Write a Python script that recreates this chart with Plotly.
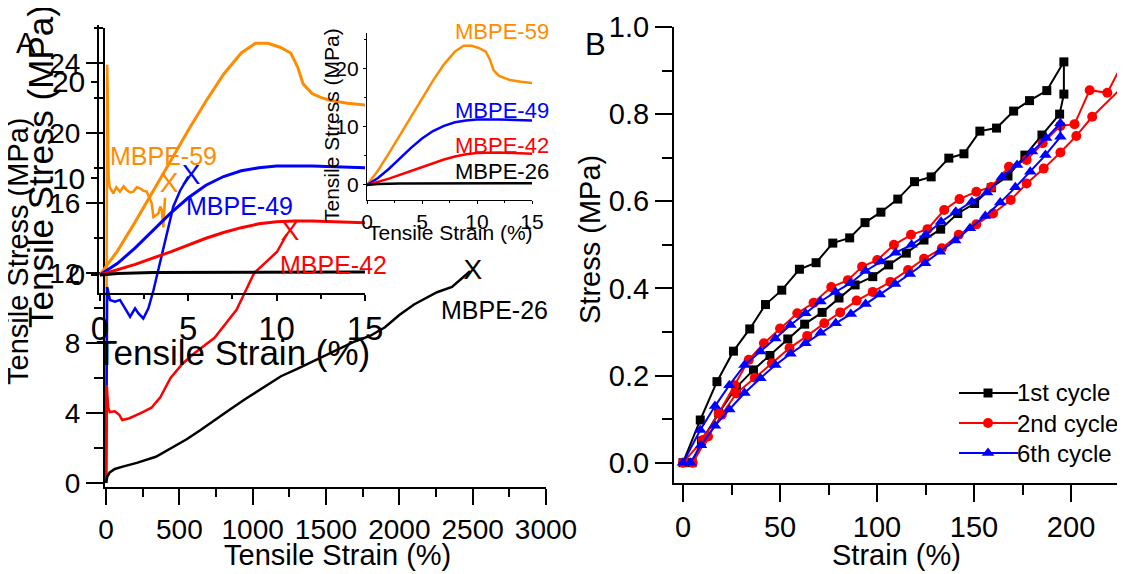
import plotly.graph_objects as go

W, H = 1125, 574          # browser window
OFF = 8                   # default page margin around the plot div
FW, FH = W - OFF, H - OFF  # figure size that exactly fills the window
FONT = "Liberation Sans, Arial, sans-serif"
ORANGE = "rgb(255,140,0)"

# ---------------- Panel A: main curves (strain %, stress MPa) ----------------
a59_strain = [0, 3, 6, 8, 11, 14, 18, 25, 50, 70, 95, 120, 141, 165, 186, 210, 232, 255, 277, 295, 311, 323, 340, 357, 370, 380, 391, 402]
a59_stress = [0, 9, 19, 23.9, 22.5, 19.5, 17.4, 16.9, 16.55, 16.9, 16.65, 16.95, 16.74, 16.6, 16.65, 16.9, 16.84, 16.7, 16.65, 16.3, 16.0, 15.2, 15.3, 15.4, 15.8, 15.6, 14.6, 16.3]

a49_strain = [0, 4, 8, 27, 61, 95, 130, 164, 198, 220, 254, 289, 323, 357, 391, 425, 459, 505, 539, 561]
a49_stress = [0, 6, 11.2, 10.46, 10.36, 10.46, 10.0, 9.5, 9.98, 9.7, 9.4, 9.98, 11.0, 12.2, 13.5, 14.6, 15.8, 16.7, 17.2, 17.5]

a42_strain = [0, 5, 15, 25, 60, 90, 110, 160, 240, 310, 370, 440, 520, 600, 740, 890, 1010, 1165, 1232]
a42_stress = [0, 5.6, 4.3, 4.05, 4.1, 3.9, 3.6, 3.7, 4.0, 4.3, 4.9, 6.0, 6.8, 7.4, 8.3, 9.9, 12.0, 13.2, 14.2]

a26_strain = [0, 8, 25, 60, 120, 210, 340, 450, 550, 640, 740, 845, 950, 1043, 1193, 1300, 1398, 1500, 1602, 1700, 1800, 1902, 2000, 2100, 2257, 2359, 2482]
a26_stress = [0, 0.35, 0.6, 0.8, 0.95, 1.15, 1.5, 2.0, 2.5, 3.0, 3.6, 4.2, 4.8, 5.3, 6.1, 6.5, 6.9, 7.3, 7.7, 8.1, 8.4, 8.9, 9.6, 10.2, 10.9, 11.2, 12.1]

# break points ("X")
break_strain = [430, 580, 1255, 2502]
break_stress = [17.0, 17.5, 14.3, 12.06]

# ---------------- Insets: low-strain region (0-15 %) ----------------
i59_strain = [0, 1, 2, 3, 4, 5, 6, 7, 8, 8.8, 9.5, 10.2, 10.8, 11.2, 11.5, 12, 12.5, 13, 14, 15]
i59_stress = [0, 2.5, 5.5, 8.6, 11.8, 15, 18, 20.8, 23, 24, 24, 23.6, 23, 21.5, 19.8, 18.8, 18.4, 18.1, 17.8, 17.6]
i49_strain = [0, 1, 2, 3, 4, 5, 6, 7, 8, 9, 10, 12, 15]
i49_stress = [0, 1.2, 2.8, 4.6, 6.4, 8, 9.3, 10.2, 10.8, 11.1, 11.3, 11.3, 11.1]
i42_strain = [0, 2, 4, 5, 6, 7, 8, 9, 10, 11, 12, 15]
i42_stress = [0, 1.1, 2.4, 3.1, 3.8, 4.4, 4.9, 5.3, 5.5, 5.6, 5.6, 5.4]
i26_strain = [0, 1, 3, 15]
i26_stress = [0, 0.15, 0.25, 0.3]

# ---------------- Panel B: cyclic loading ----------------
c1_load_x = [0, 8.9, 17.5, 26.0, 34.4, 42.5, 50.9, 60.0, 68.6, 77.2, 85.9, 93.8, 102.0, 110.7, 119.3, 127.9, 137.0, 144.8, 153.0, 161.6, 170.4, 178.6, 187.5, 196.3]
c1_load_y = [0, 0.098, 0.186, 0.256, 0.307, 0.363, 0.396, 0.444, 0.459, 0.504, 0.516, 0.551, 0.575, 0.605, 0.645, 0.656, 0.699, 0.709, 0.761, 0.768, 0.807, 0.831, 0.854, 0.920]
c1_unload_x = [196.3, 194.1, 185.0, 176.2, 167.5, 158.9, 150.3, 141.6, 132.8, 124.2, 115.1, 106.0, 97.8, 88.7, 80.4, 71.7, 62.7, 54.0, 44.8, 36.3, 27.5, 18.4, 9.5, 4.7]
c1_unload_y = [0.846, 0.800, 0.752, 0.706, 0.658, 0.631, 0.595, 0.572, 0.536, 0.511, 0.481, 0.454, 0.427, 0.408, 0.378, 0.345, 0.318, 0.284, 0.246, 0.213, 0.173, 0.114, 0.05, 0.0]

c2_load_x = [0, 10.2, 18.4, 26.6, 33.9, 41.7, 50.0, 58.9, 67.3, 76.4, 85.0, 92.3, 100.1, 108.7, 117.5, 126.0, 134.6, 142.5, 151.2, 158.9, 168.0, 177.1, 185.4, 194.5, 201.8, 209.6, 218.7, 226.4]
c2_load_y = [0, 0.052, 0.113, 0.178, 0.236, 0.274, 0.308, 0.343, 0.367, 0.403, 0.419, 0.450, 0.465, 0.500, 0.523, 0.536, 0.580, 0.605, 0.622, 0.633, 0.679, 0.695, 0.733, 0.773, 0.777, 0.855, 0.849, 0.915]
c2_unload_x = [226.4, 210.9, 202.7, 194.5, 185.9, 177.1, 168.9, 159.8, 151.2, 142.1, 133.4, 124.2, 116.0, 106.9, 97.8, 89.5, 81.0, 72.8, 64.0, 54.9, 45.8, 37.0, 27.5, 20.0, 12.9, 5.0]
c2_unload_y = [0.862, 0.794, 0.750, 0.712, 0.675, 0.641, 0.603, 0.572, 0.547, 0.523, 0.492, 0.468, 0.442, 0.415, 0.392, 0.372, 0.345, 0.320, 0.291, 0.263, 0.228, 0.195, 0.159, 0.11, 0.06, 0.0]

c6_load_x = [0, 8.9, 16.5, 23.9, 31.7, 39.9, 47.6, 55.4, 63.1, 70.9, 78.6, 86.3, 94.1, 102.0, 109.6, 117.8, 125.1, 133.0, 140.6, 148.9, 156.7, 164.4, 172.2, 179.9, 187.2, 194.5]
c6_load_y = [0, 0.075, 0.130, 0.178, 0.224, 0.255, 0.285, 0.316, 0.343, 0.370, 0.392, 0.412, 0.440, 0.462, 0.482, 0.500, 0.523, 0.553, 0.576, 0.599, 0.620, 0.656, 0.683, 0.714, 0.745, 0.779]
c6_unload_x = [194.5, 186.8, 179.0, 171.3, 163.5, 155.8, 147.9, 140.3, 132.4, 124.8, 116.9, 109.3, 101.4, 94.1, 86.5, 78.7, 70.9, 63.1, 55.4, 47.6, 39.9, 31.7, 23.9, 16.5, 9.3, 3.8]
c6_unload_y = [0.748, 0.706, 0.668, 0.632, 0.597, 0.566, 0.538, 0.510, 0.484, 0.458, 0.433, 0.410, 0.386, 0.364, 0.341, 0.320, 0.298, 0.274, 0.250, 0.224, 0.194, 0.160, 0.122, 0.085, 0.040, 0.0]

sample_names = ["MBPE-59", "MBPE-49", "MBPE-42", "MBPE-26"]
sample_colors = [ORANGE, "blue", "red", "black"]
cycle_names = ["1st cycle", "2nd cycle", "6th cycle"]


def px(x):
    """window pixel x -> paper fraction"""
    return (x - OFF) / FW


def py(y):
    """window pixel y -> paper fraction"""
    return 1 - (y - OFF) / FH


fig = go.Figure()

# main panel A curves
main_sets = [(a59_strain, a59_stress), (a49_strain, a49_stress), (a42_strain, a42_stress), (a26_strain, a26_stress)]
for (xs, ys), c in zip(main_sets, sample_colors):
    fig.add_trace(go.Scatter(x=xs, y=ys, mode="lines", line=dict(color=c, width=2.5),
                             xaxis="x", yaxis="y", showlegend=False))
fig.add_trace(go.Scatter(x=break_strain, y=break_stress, mode="text", text=["X"] * 4,
                         textfont=dict(family=FONT, size=28, color=sample_colors),
                         xaxis="x", yaxis="y", showlegend=False, cliponaxis=False))

# insets
ins_sets = [(i59_strain, i59_stress), (i49_strain, i49_stress), (i42_strain, i42_stress), (i26_strain, i26_stress)]
for (xs, ys), c in zip(ins_sets, sample_colors):
    fig.add_trace(go.Scatter(x=xs, y=ys, mode="lines", line=dict(color=c, width=3),
                             xaxis="x2", yaxis="y2", showlegend=False))
for (xs, ys), c in zip(ins_sets, sample_colors):
    fig.add_trace(go.Scatter(x=xs, y=ys, mode="lines", line=dict(color=c, width=2.5),
                             xaxis="x3", yaxis="y3", showlegend=False))

# panel B
cycles = [
    (c1_load_x + c1_unload_x, c1_load_y + c1_unload_y, "black", "square", 9),
    (c2_load_x + c2_unload_x, c2_load_y + c2_unload_y, "red", "circle", 10),
    (c6_load_x + c6_unload_x, c6_load_y + c6_unload_y, "blue", "triangle-up", 11),
]
for (xs, ys, c, sym, sz), name in zip(cycles, cycle_names):
    fig.add_trace(go.Scatter(x=xs, y=ys, mode="lines+markers", name=name,
                             line=dict(color=c, width=2),
                             marker=dict(color=c, symbol=sym, size=sz),
                             xaxis="x4", yaxis="y4", showlegend=False))

# legend of panel B drawn on a pixel-scaled helper axis (x5/y5)
leg_rows = [393, 423, 453]
for (xs, ys, c, sym, sz), name, ry in zip(cycles, cycle_names, leg_rows):
    fig.add_trace(go.Scatter(x=[959, 1018], y=[ry, ry], mode="lines", line=dict(color=c, width=2),
                             xaxis="x5", yaxis="y5", showlegend=False, hoverinfo="skip"))
    fig.add_trace(go.Scatter(x=[988], y=[ry], mode="markers", marker=dict(color=c, symbol=sym, size=sz),
                             xaxis="x5", yaxis="y5", showlegend=False, hoverinfo="skip"))

axis_common = dict(showline=True, linecolor="black", showgrid=False, zeroline=False,
                   ticks="outside", tickcolor="black", mirror=False, automargin=False)

fig.update_layout(
    width=FW, height=FH,
    margin=dict(l=0, r=0, t=0, b=0, autoexpand=False),
    paper_bgcolor="white", plot_bgcolor="rgba(0,0,0,0)",
    font=dict(family=FONT, color="black"),
    showlegend=False,
    # main A
    xaxis=dict(**axis_common, domain=[px(105), px(546)], range=[-7, 3000], anchor="y",
               tick0=0, dtick=500, ticklen=16, tickwidth=2, linewidth=2,
               minor=dict(dtick=250, ticklen=8, tickwidth=2, ticks="outside", tickcolor="black"),
               tickfont=dict(size=28)),
    yaxis=dict(**axis_common, domain=[py(487), py(28)], range=[-0.23, 26], anchor="x",
               tick0=0, dtick=4, ticklen=17, tickwidth=2, linewidth=2,
               minor=dict(dtick=2, ticklen=9, tickwidth=2, ticks="outside", tickcolor="black"),
               tickfont=dict(size=28)),
    # inset 1 (large)
    xaxis2=dict(**axis_common, domain=[px(99), px(365)], range=[-0.05, 15], anchor="y2",
                tick0=0, dtick=5, ticklen=6, tickwidth=1.5, linewidth=1.5,
                minor=dict(dtick=2.5, ticklen=4, ticks="outside", tickcolor="black"),
                tickfont=dict(size=33)),
    yaxis2=dict(**axis_common, domain=[py(293), py(25)], range=[-1.87, 25.9], anchor="x2",
                tick0=0, dtick=10, ticklen=6, tickwidth=1.5, linewidth=1.5,
                tickfont=dict(size=30)),
    # inset 2 (small)
    xaxis3=dict(**axis_common, domain=[px(367), px(532)], range=[0, 15], anchor="y3",
                tick0=0, dtick=5, ticklen=3, tickwidth=1, linewidth=1.2,
                minor=dict(dtick=2.5, ticklen=2, ticks="outside", tickcolor="black"),
                tickfont=dict(size=21)),
    yaxis3=dict(**axis_common, domain=[py(200), py(33)], range=[-2.59, 26.2], anchor="x3",
                tick0=0, dtick=10, ticklen=3, tickwidth=1, linewidth=1.2,
                minor=dict(dtick=5, ticklen=2, ticks="outside", tickcolor="black"),
                tickfont=dict(size=21)),
    # panel B
    xaxis4=dict(**axis_common, domain=[px(674), 1.0], range=[-4.64, 227.8], anchor="y4",
                tick0=0, dtick=50, ticklen=17, tickwidth=2, linewidth=2,
                minor=dict(dtick=25, ticklen=10, tickwidth=2, ticks="outside", tickcolor="black"),
                tickfont=dict(size=29)),
    yaxis4=dict(**axis_common, domain=[py(483), py(27)], range=[-0.0466, 1.0], anchor="x4",
                tick0=0, dtick=0.2, tickformat=".1f", ticklen=17, tickwidth=2, linewidth=2,
                minor=dict(dtick=0.1, ticklen=10, tickwidth=2, ticks="outside", tickcolor="black"),
                tickfont=dict(size=29)),
    # helper axes for the legend (window pixel coordinates)
    xaxis5=dict(domain=[0, 1], range=[OFF, W], visible=False, anchor="y5", fixedrange=True),
    yaxis5=dict(domain=[0, 1], range=[H, OFF], visible=False, anchor="x5", fixedrange=True),
)


def label(text, x, y, size, color="black", angle=0, xanchor="center"):
    fig.add_annotation(text=text, x=px(x), y=py(y), xref="paper", yref="paper",
                       showarrow=False, xanchor=xanchor, yanchor="middle",
                       textangle=angle, font=dict(family=FONT, size=size, color=color))


# legend texts
for name, ry in zip(cycle_names, leg_rows):
    label(name, 1015, ry, 24, xanchor="left")

# axis titles
label("Tensile Stress (MPa)", 18, 251, 29, angle=-90)
label("Tensile Stress (MPa)", 40, 167, 35, angle=-90)
label("Tensile Stress (MPa)", 331, 125, 21, angle=-90)
label("Tensile Strain (%)", 337, 555, 29)
label("Tensile Strain (%)", 233, 352, 35)
label("Tensile Strain (%)", 450, 233, 21)
label("Stress (MPa)", 590, 240, 29, angle=-90)
label("Strain (%)", 896, 555, 29)
label("A", 26, 43, 29)
label("B", 595, 44, 31)

# sample labels (main panel)
main_label_pos = [(163, 156), (239, 206), (333, 265), (494, 310)]
for name, c, (x, y) in zip(sample_names, sample_colors, main_label_pos):
    label(name, x, y, 25, color=c)
# sample labels (small inset)
small_label_pos = [(502, 32), (502, 111), (502, 146), (502, 171)]
for name, c, (x, y) in zip(sample_names, sample_colors, small_label_pos):
    label(name, x, y, 22, color=c)

fig.write_html("out.html")
